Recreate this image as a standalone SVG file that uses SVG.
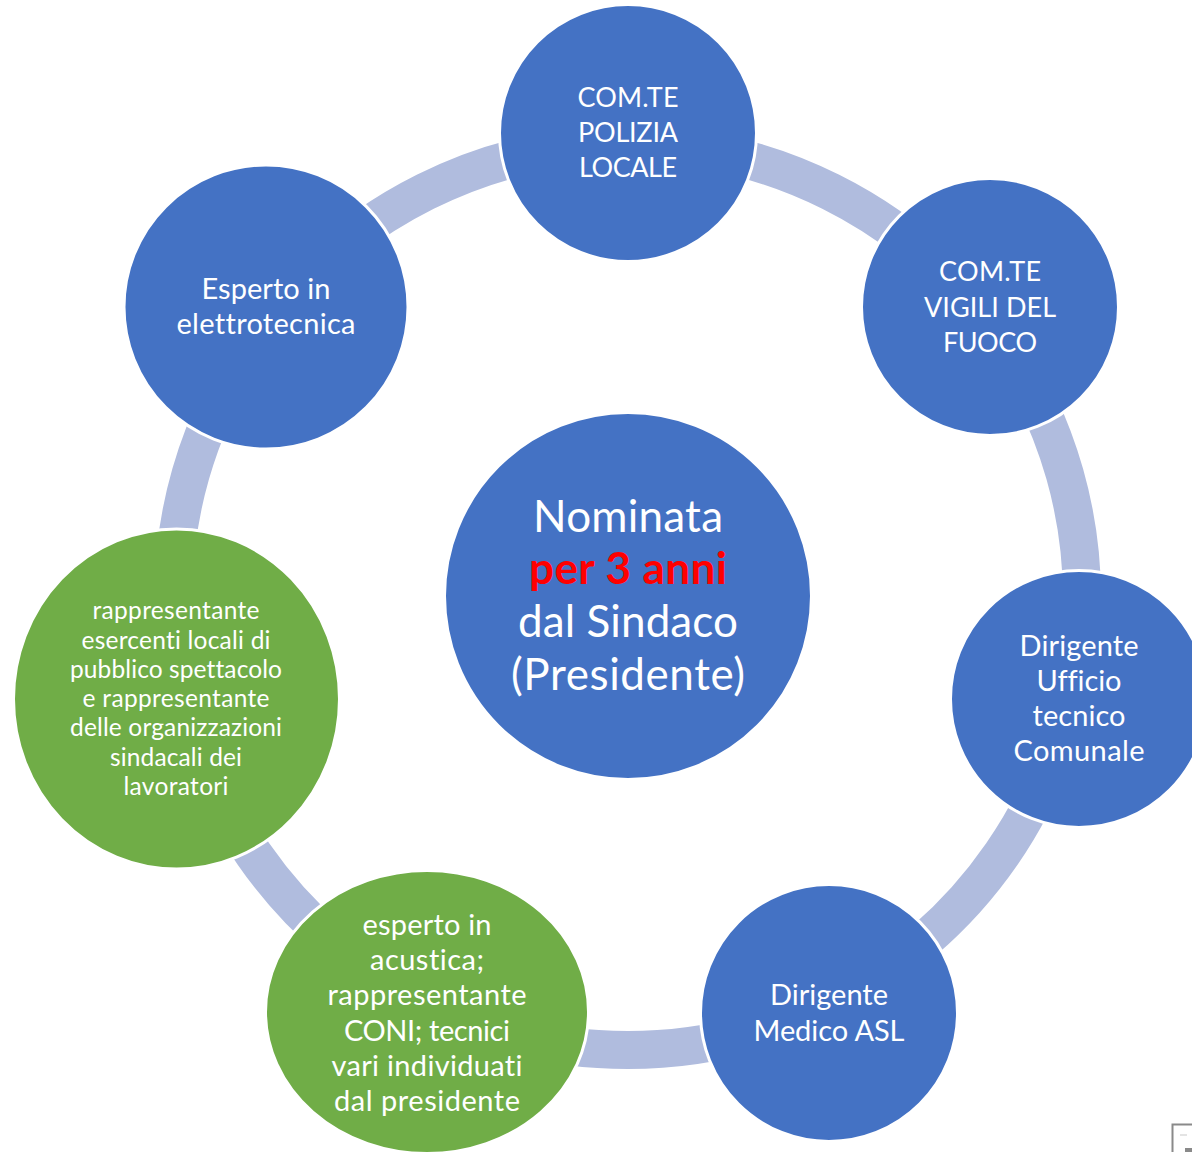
<svg xmlns="http://www.w3.org/2000/svg" width="1192" height="1152" viewBox="0 0 1192 1152">
<style>
.blue{fill:#4472c4;stroke:#fff;stroke-width:3}
.green{fill:#70ad47;stroke:#fff;stroke-width:3}
.arc{fill:none;stroke:#b0bcde;stroke-width:38}
text{font-family:"Lato","Carlito","Open Sans",sans-serif;fill:#fff;text-anchor:middle;font-variant-ligatures:none}
.m{font-size:29px}
.u{font-size:27px}
.s{font-size:24.5px}
.l{font-size:44px}
.r{fill:#f00;font-weight:bold}
</style>
<rect width="1192" height="1152" fill="#fff"/>
<g id="connectors" transform="translate(628 597) scale(1.002 1) translate(-628 -597)">
<path class="arc" d="M628 144A453 453 0 0 1 990 325"/>
<path class="arc" d="M990 325A453 453 0 0 1 1079 640"/>
<path class="arc" d="M1079 640A453 453 0 0 1 829 1003"/>
<path class="arc" d="M829 1003A453 453 0 0 1 427 1003"/>
<path class="arc" d="M427 1003A453 453 0 0 1 176 640"/>
<path class="arc" d="M176 640A453 453 0 0 1 266 325"/>
<path class="arc" d="M266 325A453 453 0 0 1 628 144"/>
</g>
<g id="center"><circle class="blue" cx="628" cy="596" r="183.500"/>
<text class="l" x="628" y="532" textLength="190">Nominata</text>
<text class="l r" x="628" y="584" textLength="198">per 3 anni</text>
<text class="l" x="628" y="637" textLength="220">dal Sindaco</text>
<text class="l" x="628" y="690" textLength="234">(Presidente)</text></g>
<g id="n1"><circle class="blue" cx="628" cy="133" r="128.500"/>
<text class="u" x="628" y="107" textLength="101">COM.TE</text><text class="u" x="628" y="142" textLength="100">POLIZIA</text><text class="u" x="628" y="177" textLength="98">LOCALE</text></g>
<g id="n2"><circle class="blue" cx="990" cy="307" r="128.500"/>
<text class="u" x="990" y="281" textLength="102">COM.TE</text><text class="u" x="990" y="317" textLength="132">VIGILI DEL</text><text class="u" x="990" y="352" textLength="94">FUOCO</text></g>
<g id="n3"><circle class="blue" cx="1079" cy="699" r="128.500"/>
<text class="m" x="1079" y="656" textLength="119">Dirigente</text><text class="m" x="1079" y="691" textLength="85">Ufficio</text><text class="m" x="1079" y="726" textLength="93">tecnico</text><text class="m" x="1079" y="761" textLength="131">Comunale</text></g>
<g id="n4"><circle class="blue" cx="829" cy="1013" r="128.500"/>
<text class="m" x="829" y="1005" textLength="118">Dirigente</text><text class="m" x="829" y="1041" textLength="151">Medico ASL</text></g>
<g id="n5"><ellipse class="green" cx="427" cy="1012" rx="161.500" ry="141.500"/>
<text class="m" x="427" y="935" textLength="129">esperto in</text><text class="m" x="427" y="970" textLength="114">acustica;</text><text class="m" x="427" y="1005" textLength="199">rappresentante</text><text class="m" x="427" y="1041" textLength="166">CONI; tecnici</text><text class="m" x="427" y="1076" textLength="191">vari individuati</text><text class="m" x="427" y="1111" textLength="186">dal presidente</text></g>
<g id="n6"><ellipse class="green" cx="176.500" cy="699" rx="163" ry="170"/>
<text class="s" x="176" y="619" textLength="167">rappresentante</text><text class="s" x="176" y="649" textLength="189">esercenti locali di</text><text class="s" x="176" y="678" textLength="212">pubblico spettacolo</text><text class="s" x="176" y="707" textLength="187">e rappresentante</text><text class="s" x="176" y="736" textLength="212">delle organizzazioni</text><text class="s" x="176" y="766" textLength="132">sindacali dei</text><text class="s" x="176" y="795" textLength="105">lavoratori</text></g>
<g id="n7"><circle class="blue" cx="266" cy="307" r="142"/>
<text class="m" x="266" y="299" textLength="129">Esperto in</text><text class="m" x="266" y="334" textLength="179">elettrotecnica</text></g>
<rect x="1172.500" y="1124.500" width="30" height="40" fill="#fff" stroke="#8a8a8a" stroke-width="2"/>
<rect x="1180" y="1134" width="7" height="2" fill="#e4e4e4"/>
<rect x="1185" y="1148" width="7" height="4" fill="#8a8a8a"/>
</svg>
